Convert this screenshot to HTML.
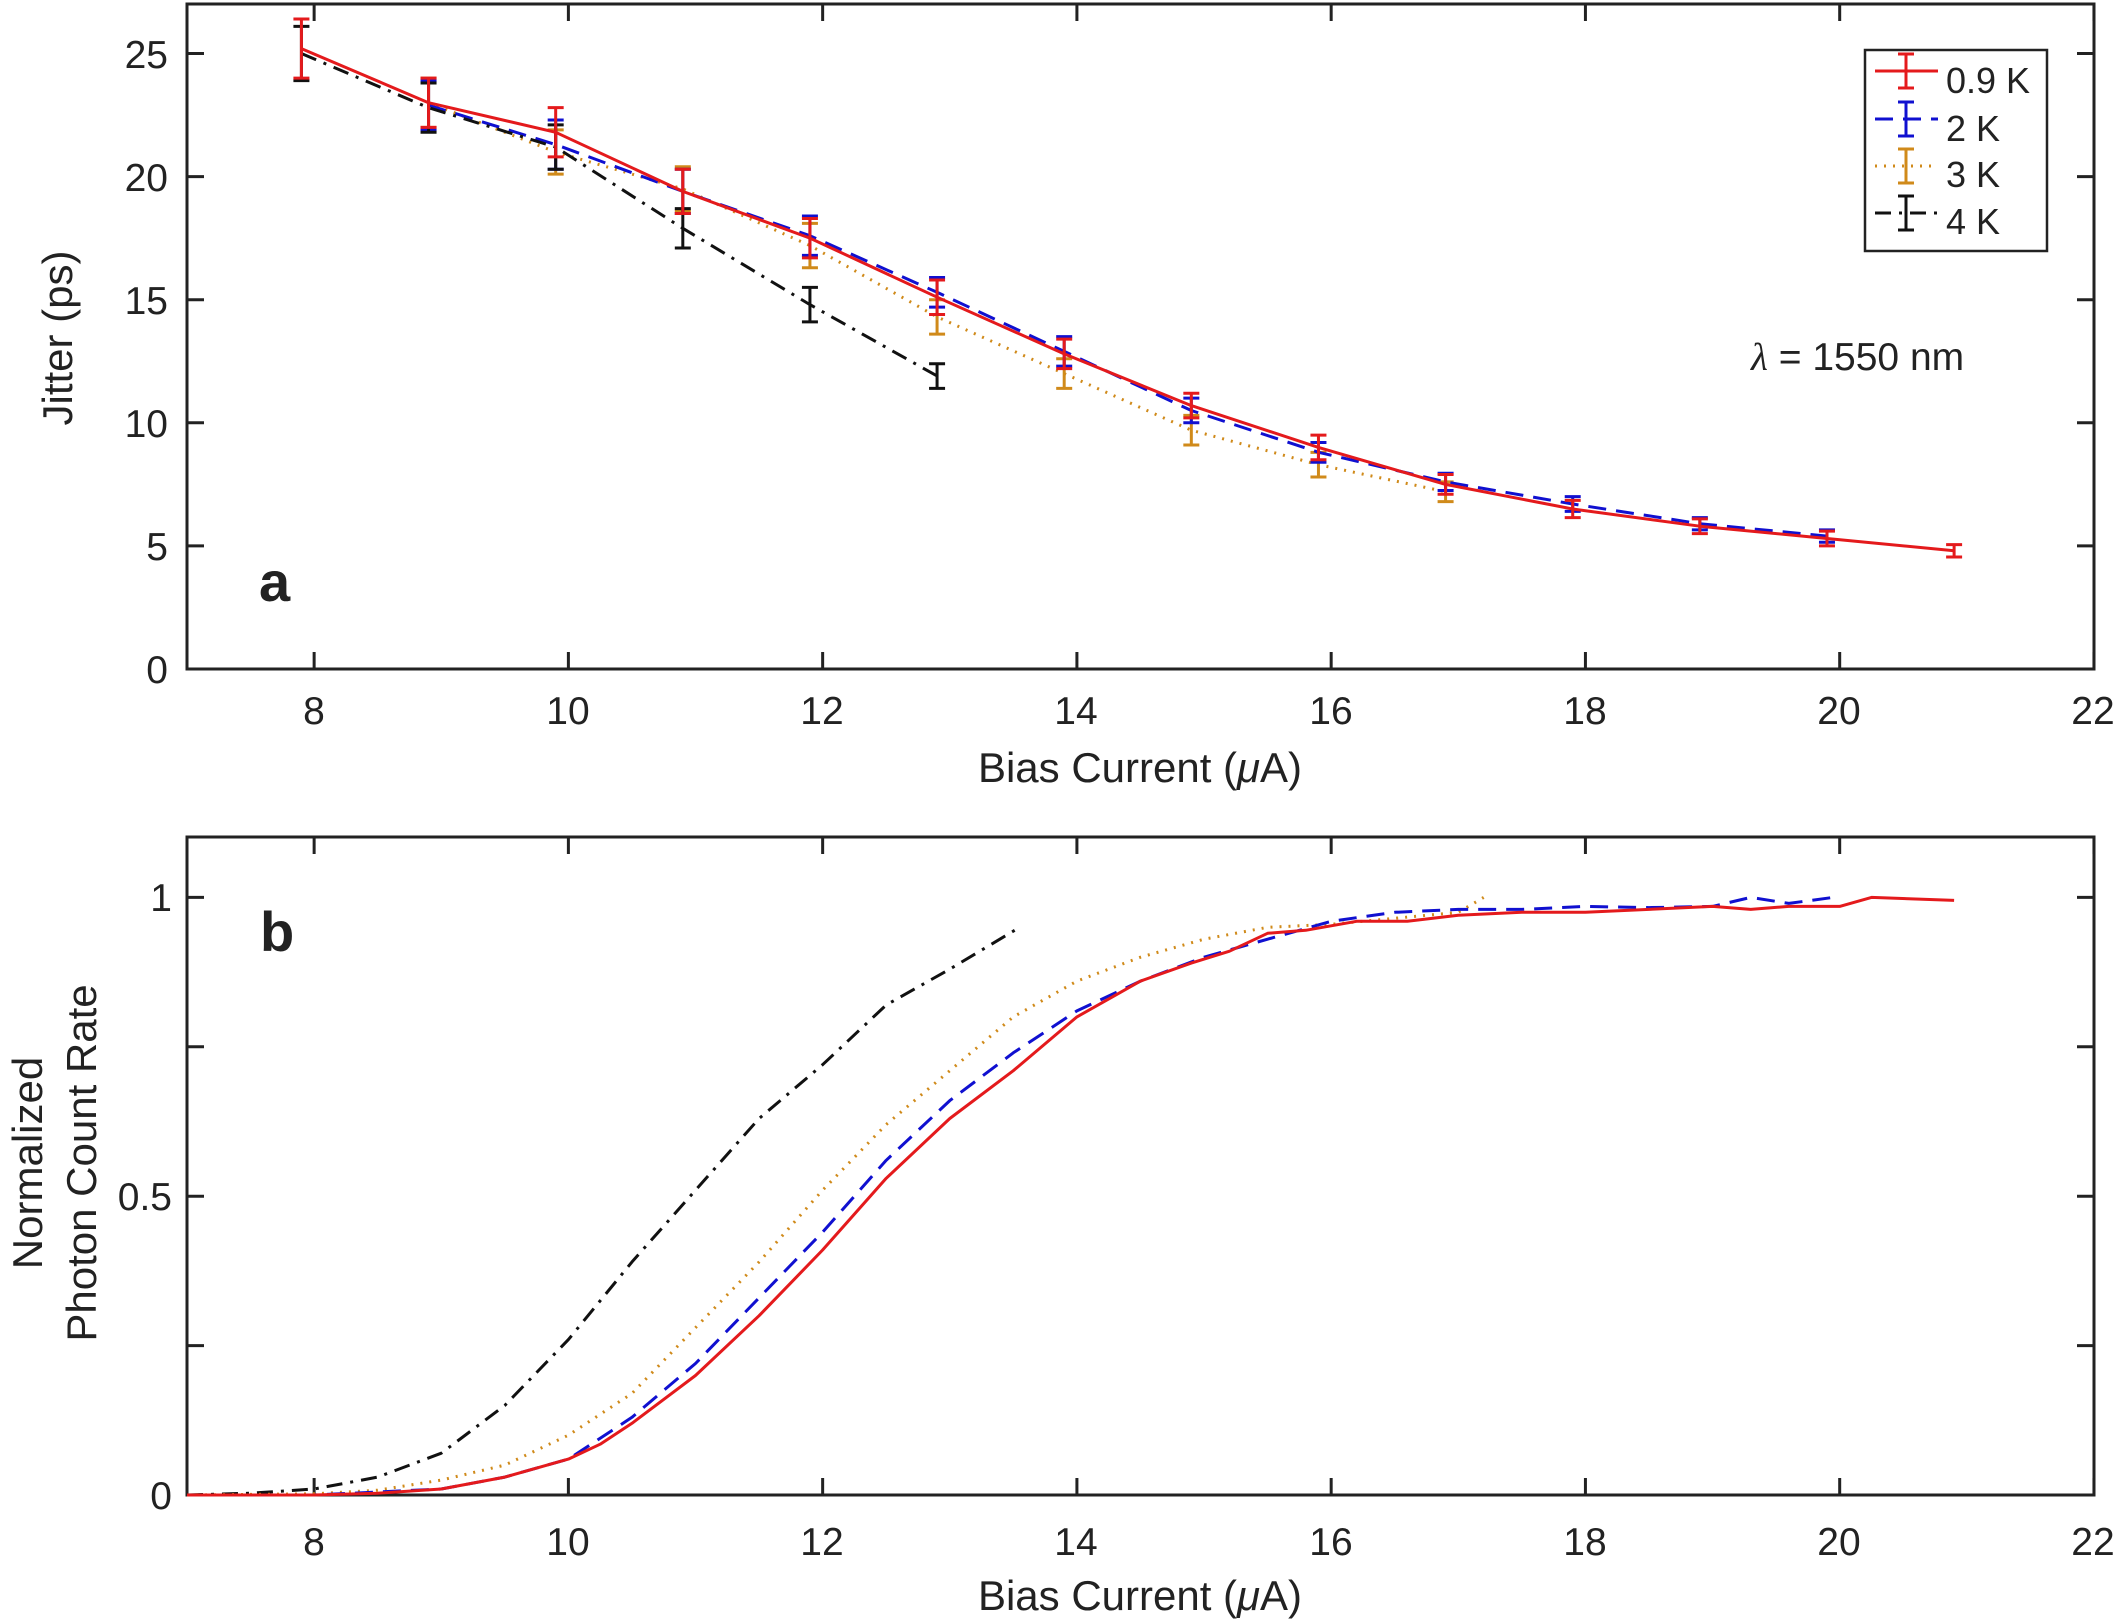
<!DOCTYPE html>
<html><head><meta charset="utf-8"><style>
html,body{margin:0;padding:0;background:#fff}
svg{display:block}
text{font-family:"Liberation Sans",Arial,sans-serif;fill:#222}
</style></head><body>
<svg id="s" width="2120" height="1623" viewBox="0 0 2120 1623" xmlns="http://www.w3.org/2000/svg">
<rect width="2120" height="1623" fill="#fff"/>
<rect x="1865" y="50" width="182" height="201" fill="#fff" stroke="#222" stroke-width="2.5"/>
<g id="g"></g>
<!-- top panel text -->
<g font-size="39" text-anchor="end">
<text x="168" y="68">25</text><text x="168" y="191">20</text><text x="168" y="314">15</text>
<text x="168" y="437">10</text><text x="168" y="560">5</text><text x="168" y="683">0</text>
</g>
<g font-size="39" text-anchor="middle">
<text x="314" y="724">8</text><text x="568" y="724">10</text><text x="822" y="724">12</text>
<text x="1076" y="724">14</text><text x="1331" y="724">16</text><text x="1585" y="724">18</text>
<text x="1839" y="724">20</text><text x="2093" y="724">22</text>
</g>
<text x="1140" y="782" font-size="42" text-anchor="middle">Bias Current (<tspan font-style="italic">μ</tspan>A)</text>
<text transform="translate(72,338) rotate(-90)" font-size="42" text-anchor="middle">Jitter (ps)</text>
<text x="259" y="601" font-size="56" font-weight="bold">a</text>
<text x="1751" y="370" font-size="39"><tspan font-family="Liberation Serif" font-style="italic">λ</tspan> = 1550 nm</text>
<g font-size="36">
<text x="1946" y="93">0.9 K</text><text x="1946" y="141">2 K</text><text x="1946" y="187">3 K</text><text x="1946" y="234">4 K</text>
</g>
<!-- bottom panel text -->
<g font-size="39" text-anchor="end">
<text x="172" y="1509">0</text><text x="172" y="1210">0.5</text><text x="172" y="911">1</text>
</g>
<g font-size="39" text-anchor="middle">
<text x="314" y="1555">8</text><text x="568" y="1555">10</text><text x="822" y="1555">12</text>
<text x="1076" y="1555">14</text><text x="1331" y="1555">16</text><text x="1585" y="1555">18</text>
<text x="1839" y="1555">20</text><text x="2093" y="1555">22</text>
</g>
<text x="1140" y="1610" font-size="42" text-anchor="middle">Bias Current (<tspan font-style="italic">μ</tspan>A)</text>
<text transform="translate(42,1163) rotate(-90)" font-size="42" text-anchor="middle">Normalized</text>
<text transform="translate(96,1163) rotate(-90)" font-size="42" text-anchor="middle">Photon Count Rate</text>
<text x="260" y="951" font-size="56" font-weight="bold">b</text>
</svg>
<script>
var NS="http://www.w3.org/2000/svg",g=document.getElementById("g");
function el(t,a){var e=document.createElementNS(NS,t);for(var k in a)e.setAttribute(k,a[k]);g.appendChild(e);return e;}
function X(x){return 187+(x-7)*127.13;}
function YT(y){return 669-y*24.62;}
function YB(y){return 1495-y*597.6;}
var styles={r:{c:"#e41a1c",d:""},b:{c:"#1010d0",d:"18,10"},o:{c:"#d08a1a",d:"2,7"},k:{c:"#111",d:"16,8,3,8"}};
function line(pts,s,w){var d="";pts.forEach(function(p,i){d+=(i?"L":"M")+p[0].toFixed(1)+","+p[1].toFixed(1);});
 el("path",{d:d,fill:"none",stroke:styles[s].c,"stroke-width":w||3,"stroke-dasharray":styles[s].d,"stroke-linejoin":"round"});}
el("rect",{x:187,y:4,width:1907,height:665,fill:"none",stroke:"#222","stroke-width":3});
el("rect",{x:187,y:837,width:1907,height:658,fill:"none",stroke:"#222","stroke-width":3});
for(var x=8;x<=22;x+=2){var px=X(x);
 el("line",{x1:px,y1:4,x2:px,y2:21,stroke:"#222","stroke-width":3});
 el("line",{x1:px,y1:669,x2:px,y2:652,stroke:"#222","stroke-width":3});
 el("line",{x1:px,y1:837,x2:px,y2:854,stroke:"#222","stroke-width":3});
 el("line",{x1:px,y1:1495,x2:px,y2:1478,stroke:"#222","stroke-width":3});}
for(var y=0;y<=25;y+=5){var py=YT(y);
 el("line",{x1:187,y1:py,x2:204,y2:py,stroke:"#222","stroke-width":3});
 el("line",{x1:2094,y1:py,x2:2077,y2:py,stroke:"#222","stroke-width":3});}
for(var y=0;y<=1;y+=0.25){var py=YB(y);
 el("line",{x1:187,y1:py,x2:204,y2:py,stroke:"#222","stroke-width":3});
 el("line",{x1:2094,y1:py,x2:2077,y2:py,stroke:"#222","stroke-width":3});}
var xs=[7.9,8.9,9.9,10.9,11.9,12.9,13.9,14.9,15.9,16.9,17.9,18.9,19.9,20.9];
var data={
 r:{x0:0,y:[25.2,23.0,21.8,19.4,17.5,15.1,12.8,10.7,9.0,7.5,6.5,5.8,5.3,4.8],e:[1.2,1.0,1.0,0.9,0.8,0.7,0.6,0.5,0.5,0.4,0.35,0.3,0.3,0.25]},
 b:{x0:1,y:[22.9,21.3,19.4,17.6,15.3,12.9,10.5,8.8,7.6,6.7,5.9,5.4],e:[1.0,1.0,0.9,0.8,0.6,0.6,0.5,0.4,0.35,0.3,0.25,0.25]},
 o:{x0:1,y:[23.0,21.0,19.5,17.2,14.3,12.0,9.7,8.3,7.2],e:[1.0,0.9,0.9,0.9,0.7,0.6,0.6,0.5,0.4]},
 k:{x0:0,y:[25.0,22.8,21.2,17.9,14.8,11.9],e:[1.1,1.0,0.9,0.8,0.7,0.5]}};
["o","b","k","r"].forEach(function(s){var d=data[s],pts=[];
 d.y.forEach(function(v,i){pts.push([X(xs[i+d.x0]),YT(v)]);});line(pts,s,3);
 d.y.forEach(function(v,i){var px=X(xs[i+d.x0]),a=YT(v+d.e[i]),b=YT(v-d.e[i]);
  el("line",{x1:px,y1:a,x2:px,y2:b,stroke:styles[s].c,"stroke-width":3});
  el("line",{x1:px-8,y1:a,x2:px+8,y2:a,stroke:styles[s].c,"stroke-width":3});
  el("line",{x1:px-8,y1:b,x2:px+8,y2:b,stroke:styles[s].c,"stroke-width":3});});});
[["r",71],["b",119],["k",213],["o",166]].forEach(function(a){var s=a[0],y=a[1];
 el("line",{x1:1875,y1:y,x2:1938,y2:y,stroke:styles[s].c,"stroke-width":3,"stroke-dasharray":styles[s].d});
 el("line",{x1:1906,y1:y-17,x2:1906,y2:y+17,stroke:styles[s].c,"stroke-width":3});
 el("line",{x1:1898,y1:y-17,x2:1914,y2:y-17,stroke:styles[s].c,"stroke-width":3});
 el("line",{x1:1898,y1:y+17,x2:1914,y2:y+17,stroke:styles[s].c,"stroke-width":3});});
var bd={
 r:[[7,0],[8,0],[8.5,0.003],[9,0.01],[9.5,0.03],[10,0.06],[10.25,0.085],[10.5,0.12],[11,0.2],[11.5,0.3],[12,0.41],[12.5,0.53],[13,0.63],[13.5,0.71],[14,0.8],[14.5,0.86],[14.9,0.89],[15.2,0.91],[15.5,0.94],[15.8,0.945],[16.2,0.96],[16.6,0.96],[17,0.97],[17.5,0.975],[18,0.975],[18.5,0.98],[19,0.985],[19.3,0.98],[19.6,0.985],[20,0.985],[20.25,1.0],[20.9,0.995]],
 b:[[7,0],[8,0],[9,0.01],[9.5,0.03],[10,0.06],[10.5,0.13],[11,0.22],[11.5,0.33],[12,0.44],[12.5,0.56],[13,0.66],[13.5,0.74],[14,0.81],[14.5,0.86],[15,0.9],[15.5,0.93],[16,0.96],[16.5,0.975],[17,0.98],[17.5,0.98],[18,0.985],[18.5,0.983],[19,0.985],[19.3,1.0],[19.6,0.99],[19.95,1.0]],
 o:[[7,0],[8,0.002],[8.5,0.008],[9,0.025],[9.5,0.05],[10,0.1],[10.5,0.17],[11,0.28],[11.5,0.39],[12,0.51],[12.5,0.62],[13,0.71],[13.5,0.8],[14,0.86],[14.5,0.9],[15,0.93],[15.5,0.95],[16,0.955],[16.5,0.965],[17,0.975],[17.2,1.0]],
 k:[[7,0],[7.5,0.003],[8,0.01],[8.5,0.03],[9,0.07],[9.5,0.15],[10,0.26],[10.5,0.39],[11,0.51],[11.5,0.63],[12,0.72],[12.5,0.82],[13,0.88],[13.55,0.95]]};
["k","o","b","r"].forEach(function(s){line(bd[s].map(function(p){return [X(p[0]),YB(p[1])];}),s,3);});
</script>
</body></html>
